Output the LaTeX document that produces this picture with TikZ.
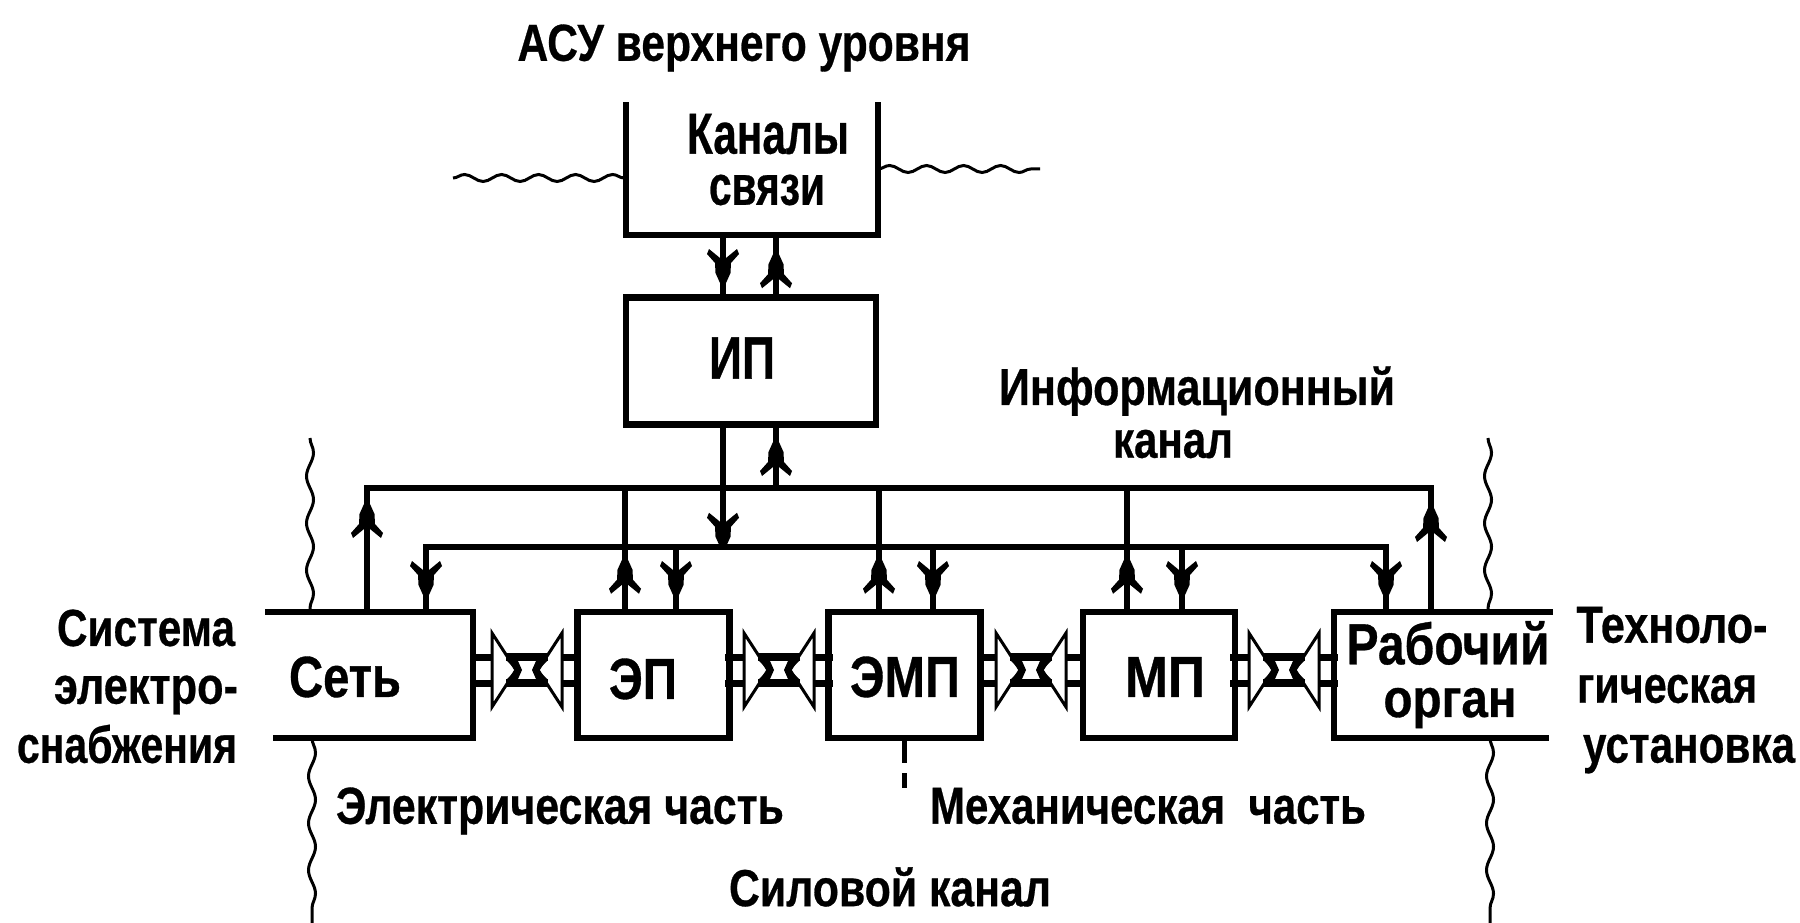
\documentclass[tikz,border=0pt]{standalone}
\usepackage{graphicx}
\usepackage{fontspec}
\setmainfont{Liberation Sans}
\usetikzlibrary{arrows.meta,decorations.pathmorphing,decorations.markings}
\newcommand\TT[3]{\resizebox{#1pt}{\height}{\fontsize{#2pt}{#2pt}\selectfont\bfseries\addfontfeature{FakeBold=0.6}#3}}
\tikzset{
  wire/.style={line width=5.5pt},
  frame/.style={line width=6.5pt,line cap=rect,line join=miter},
  boxnode/.style={rectangle,draw,frame,minimum width=#1,inner sep=0pt},
  blank/.style={rectangle,inner sep=0pt,outer sep=0pt},
  lbl/.style={inner sep=0pt,outer sep=0pt,anchor=center},
  head/.style={postaction={decorate},decoration={markings,mark=at position #1pt with {
    \fill (0,-3)--(-10,-7.5)--(-20,-8)--(-29,-16)--(-34,-14)--(-25,-3)--(-25,3)--(-34,14)--(-29,16)--(-20,8)--(-10,7.5)--(0,3)--cycle;}}},
  wave/.style={line width=3pt,decorate,decoration={snake,amplitude=3.5pt,segment length=#1pt}},
  coupler/.pic={
    \draw[line width=3pt,line join=miter] (-35,-37)--(-11,0)--(-35,37)--cycle;
    \draw[line width=3pt,line join=miter] (35,-37)--(11,0)--(35,37)--cycle;
    \draw[line width=7pt] (-54,-13)--(-35,-13) (-54,13)--(-35,13) (35,-13)--(54,-13) (35,13)--(54,13);
    \draw[line width=8pt] (-21,-13)--(21,-13) (-21,13)--(21,13);
    \fill (-21,-10)--(-9,-9)--(-5,0)--(-9,9)--(-21,10)--(-11,0)--cycle;
    \fill (21,-10)--(9,-9)--(5,0)--(9,9)--(21,10)--(11,0)--cycle;
  }
}
\begin{document}
\begin{tikzpicture}[x=1pt,y=-1pt]
\useasboundingbox (0,0) rectangle (1800,923);
\fill[white] (0,0) rectangle (1800,923);
% boxes
\node[blank,minimum width=252pt,minimum height=130pt] (kan) at (752,170) {};
\node[boxnode=250pt,minimum height=127pt] (ip) at (751,361) {};
\node[blank,minimum width=205pt,minimum height=126pt] (net) at (370.5,675) {};
\node[boxnode=152pt,minimum height=126pt] (ep) at (653.5,675) {};
\node[boxnode=152pt,minimum height=126pt] (emp) at (904.5,675) {};
\node[boxnode=152pt,minimum height=126pt] (mp) at (1159,675) {};
\node[blank,minimum width=216pt,minimum height=126pt] (ro) at (1442,675) {};
\draw[frame] (kan.north west)--(kan.south west)--(kan.south east)--(kan.north east);
\draw[frame] (net.north west)--(net.north east)--(net.south east)--([xshift=8pt]net.south west);
\draw[frame] (ro.north east)--(ro.north west)--(ro.south west)--([xshift=-4pt]ro.south east);
% buses
\coordinate (b1l) at (367,488); \coordinate (b1r) at (1431,488);
\coordinate (b2l) at (426,547); \coordinate (b2r) at (1386,547);
\draw[wire,line cap=rect] (net.north -| b1l)--(b1l)--(b1r)--(ro.north -| b1r);
\draw[wire,line cap=rect] (net.north -| b2l)--(b2l)--(b2r)--(ro.north -| b2r);
% arrow ports
\coordinate (xKd) at (723,0); \coordinate (xKu) at (776,0);
\foreach \n/\u/\d in {ep/625/676,emp/879/933,mp/1127/1182}{
  \draw[wire,head=49] (\n.north -| \u,0)--(\u,488);
  \draw[wire,head=48] (\d,547)--(\n.north -| \d,0);
}
\draw[wire,head=48] (b2l)--(net.north -| b2l);
\draw[wire,head=48] (b2r)--(ro.north -| b2r);
\draw[wire,head=108] (net.north -| b1l)--(b1l);
\draw[wire,head=104] (ro.north -| b1r)--(b1r);
\draw[wire,head=48] (kan.south -| xKd)--(ip.north -| xKd);
\draw[wire,head=40] (ip.north -| xKu)--(kan.south -| xKu);
\draw[wire,head=119] (ip.south -| xKd)--(xKd |- b2l);
\draw[wire,head=46] (xKu |- b1l)--(ip.south -| xKu);
% couplers
\coordinate (c1) at (527,670); \coordinate (c2) at (779,670);
\coordinate (c3) at (1031,670); \coordinate (c4) at (1284,670);
\foreach \c in {c1,c2,c3,c4}{\path (\c) pic {coupler};}
% dash
\draw[line width=5pt] (emp.south)--++(0,22) (emp.south)++(0,32)--++(0,15);
% waves
\coordinate (wl1) at (453,178); \coordinate (wr1) at (1040,169);
\draw[wave=37] (wl1)--(kan.west |- wl1);
\draw[wave=37] (kan.east |- wr1)--(wr1);
\coordinate (vl1) at (310,438); \coordinate (vl2) at (312,923);
\coordinate (vr1) at (1488,438); \coordinate (vr2) at (1490,923);
\draw[wave=47] (vl1)--(net.north -| vl1);
\draw[wave=47] (net.south -| vl2)--(vl2);
\draw[wave=47] (vr1)--(ro.north -| vr1);
\draw[wave=47] (ro.south -| vr2)--(vr2);
% labels
\node[lbl] (t1) at (744,48) {\TT{453}{52}{АСУ верхнего уровня}};
\node[lbl] (t2) at (768,134) {\TT{162}{58}{Каналы}};
\node[lbl] (t3) at (767,190) {\TT{116}{56}{связи}};
\node[lbl] (t4) at (742,358) {\TT{66}{60}{ИП}};
\node[lbl] (t5) at (1197,391) {\TT{396}{52}{Информационный}};
\node[lbl] (t6) at (1173,444) {\TT{120}{52}{канал}};
\node[lbl] (t7) at (146,628) {\TT{178}{52}{Система}};
\node[lbl] (t8) at (146,695) {\TT{184}{52}{электро-}};
\node[lbl] (t9) at (127,744) {\TT{220}{52}{снабжения}};
\node[lbl] (t10) at (345,677) {\TT{112}{58}{Сеть}};
\node[lbl] (t11) at (643,679) {\TT{68}{58}{ЭП}};
\node[lbl] (t12) at (905,677) {\TT{110}{58}{ЭМП}};
\node[lbl] (t13) at (1165,677) {\TT{80}{58}{МП}};
\node[lbl] (t14) at (1448,643) {\TT{203}{58}{Рабочий}};
\node[lbl] (t15) at (1450,708) {\TT{133}{54}{орган}};
\node[lbl] (t16) at (1672,625) {\TT{191}{52}{Техноло-}};
\node[lbl] (t17) at (1667,689) {\TT{180}{52}{гическая}};
\node[lbl] (t18) at (1689,754) {\TT{212}{52}{установка}};
\node[lbl] (t19) at (560,811) {\TT{448}{52}{Электрическая часть}};
\node[lbl] (t20) at (1148,806) {\TT{436}{52}{Механическая\ \ часть}};
\node[lbl] (t21) at (890,887) {\TT{322}{52}{Силовой канал}};
\end{tikzpicture}
\end{document}
